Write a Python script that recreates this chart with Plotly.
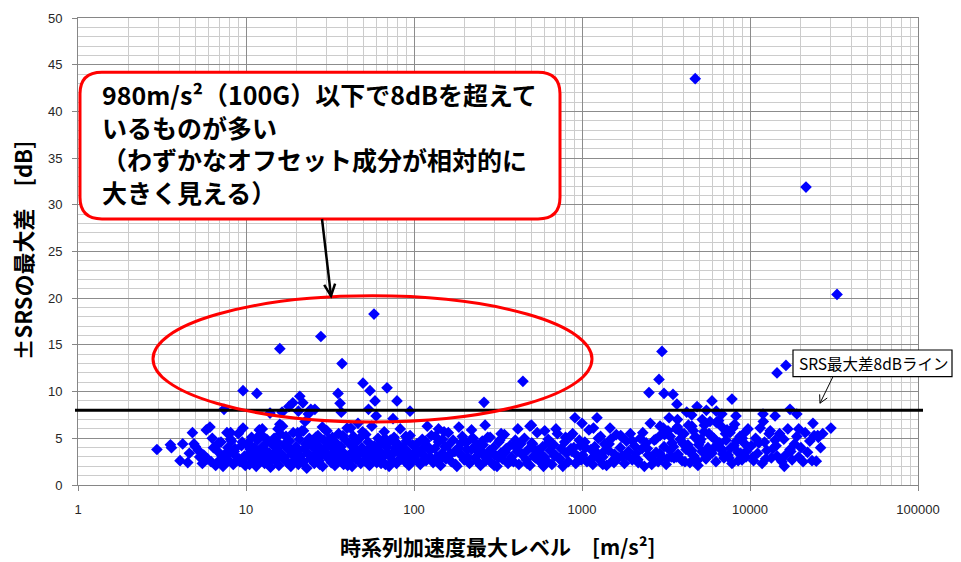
import math
import plotly.graph_objects as go

# ---------------- data ----------------
# decade 1-10
x_a = [2.95, 3.55, 3.6, 4.05, 4.2, 4.5, 4.6, 4.8, 4.9, 5.0,
       5.3, 5.5, 5.6, 5.8, 5.9, 6.1, 6.3, 6.4, 6.6, 6.8,
       7.0, 7.1, 7.3, 7.5, 7.7, 7.9, 8.0, 8.2, 8.4, 8.6,
       8.8, 9.0, 9.2, 9.4, 9.6, 9.8, 9.9,
       6.9, 7.2, 7.6, 8.1, 8.5, 9.1, 9.5, 6.2, 5.2, 7.8]
y_a = [3.8, 4.3, 4.0, 2.6, 4.4, 2.4, 3.4, 5.6, 4.4, 4.1,
       3.0, 2.3, 3.2, 5.9, 2.8, 6.2, 5.0, 4.0, 2.1, 3.6,
       2.7, 4.6, 2.0, 3.3, 5.6, 2.6, 3.4, 4.7, 2.2, 3.9,
       3.0, 5.5, 2.5, 4.2, 6.1, 3.1, 2.1,
       4.5, 3.1, 2.4, 4.9, 3.6, 2.8, 4.6, 2.5, 3.7, 4.0]

# decade 10-100
x_b = [10.1, 10.3, 10.5, 10.6, 10.8, 11.0, 11.2, 11.3, 11.5, 11.7,
       11.9, 12.1, 12.3, 12.5, 12.7, 12.9, 13.1, 13.3, 13.5, 13.8,
       14.0, 14.2, 14.4, 14.7, 14.9, 15.2, 15.4, 15.7, 15.9, 16.2,
       16.5, 16.8, 17.0, 17.3, 17.6, 17.9, 18.2, 18.5, 18.8, 19.1,
       19.5, 19.8, 20.1, 20.5, 20.8, 21.2, 21.5, 21.9, 22.3, 22.6,
       23.0, 23.4, 23.8, 24.2, 24.6, 25.0, 25.5, 25.9, 26.3, 26.8,
       27.2, 27.7, 28.1, 28.6, 29.1, 29.6, 30.1, 30.6, 31.1, 31.6,
       32.2, 32.7, 33.3, 33.8, 34.4, 35.0, 35.6, 36.2, 36.8, 37.4,
       38.1, 38.7, 39.4, 40.0, 40.7, 41.4, 42.1, 42.8, 43.6, 44.3,
       45.1, 45.8, 46.6, 47.4, 48.2, 49.0, 49.9, 50.7, 51.6, 52.5,
       53.4, 54.3, 55.2, 56.1, 57.1, 58.1, 59.0, 60.0, 61.1, 62.1,
       63.2, 64.2, 65.3, 66.5, 67.6, 68.7, 69.9, 71.1, 72.3, 73.6,
       74.8, 76.1, 77.4, 78.7, 80.1, 81.4, 82.8, 84.2, 85.7, 87.1,
       88.6, 90.1, 91.7, 93.2, 94.8, 96.5, 98.1, 99.8]
y_b = [3.1, 4.5, 2.2, 3.8, 5.1, 2.7, 4.0, 3.3, 2.0, 4.8,
       3.6, 2.5, 5.4, 3.0, 4.2, 2.3, 3.7, 4.9, 2.8, 3.4,
       1.9, 4.4, 3.2, 5.0, 2.6, 3.9, 4.6, 2.1, 3.5, 6.3,
       2.9, 4.3, 3.0, 5.2, 2.4, 3.8, 4.7, 2.0, 3.3, 5.6,
       2.7, 4.1, 3.6, 2.2, 4.9, 3.1, 5.8, 2.5, 3.9, 4.4,
       1.8, 3.4, 5.0, 2.8, 4.2, 3.0, 2.3, 4.6, 3.7, 5.3,
       2.6, 4.0, 3.2, 2.0, 4.8, 3.5, 5.8, 2.9, 4.3, 3.1,
       2.4, 5.1, 3.8, 2.1, 4.5, 3.3, 5.5, 2.7, 4.1, 3.6,
       2.2, 4.9, 3.0, 6.1, 2.5, 4.4, 3.4, 2.0, 5.2, 3.9,
       2.8, 4.7, 3.2, 5.0, 2.3, 4.0, 3.6, 2.6, 5.4, 3.1,
       4.6, 2.1, 3.8, 6.3, 2.9, 4.2, 3.3, 2.4, 5.0, 3.7,
       2.7, 4.5, 3.0, 5.7, 2.2, 4.1, 3.5, 2.0, 4.8, 3.2,
       2.6, 5.1, 3.9, 2.3, 4.4, 3.4, 6.0, 2.8, 4.0, 3.1,
       2.5, 4.7, 3.6, 2.1, 5.3, 3.0, 4.3, 2.7]
x_b2 = [10.4, 11.1, 11.8, 12.6, 13.4, 14.3, 15.1, 16.0, 17.1, 18.0,
        19.3, 20.3, 21.7, 23.2, 24.4, 26.0, 27.5, 29.3, 31.3, 33.5,
        35.3, 37.8, 40.3, 43.0, 46.0, 49.4, 52.0, 55.7, 59.5, 63.7,
        67.0, 70.5, 75.5, 79.4, 83.5, 89.4, 95.6, 12.0, 15.5, 22.0]
y_b2 = [4.1, 2.9, 5.2, 3.6, 2.3, 4.6, 3.3, 5.5, 2.7, 4.0,
        3.5, 5.6, 2.4, 4.3, 3.0, 5.1, 2.2, 3.8, 4.9, 2.6,
        3.4, 5.3, 2.1, 4.4, 3.1, 5.7, 2.8, 4.1, 3.6, 2.3,
        5.0, 3.2, 4.6, 2.5, 3.9, 5.2, 3.0, 5.9, 6.0, 5.8]

# decade 100-1000
x_c = [101, 104, 106, 109, 112, 115, 118, 121, 124, 127,
       130, 133, 137, 140, 144, 147, 151, 155, 159, 163,
       167, 171, 175, 180, 184, 189, 194, 199, 204, 209,
       214, 220, 225, 231, 237, 243, 249, 255, 262, 268,
       275, 282, 289, 297, 304, 312, 320, 328, 336, 345,
       354, 363, 372, 381, 391, 401, 411, 421, 432, 443,
       454, 466, 478, 490, 502, 515, 528, 541, 555, 569,
       584, 599, 614, 629, 645, 662, 679, 696, 714, 732,
       750, 769, 789, 809, 829, 851, 872, 894, 917, 941,
       964, 989]
y_c = [2.9, 4.4, 3.5, 2.2, 4.9, 3.1, 2.6, 4.1, 3.7, 5.3,
       2.4, 3.9, 3.0, 4.6, 2.1, 3.4, 5.7, 2.8, 4.2, 3.2,
       2.5, 4.8, 3.6, 2.0, 4.0, 3.3, 5.2, 2.7, 4.5, 3.0,
       2.3, 3.8, 5.0, 2.9, 4.3, 3.5, 2.1, 4.7, 3.1, 2.6,
       5.1, 3.7, 2.4, 4.0, 3.2, 2.0, 4.6, 3.4, 2.8, 5.4,
       3.9, 2.3, 4.2, 3.0, 2.5, 4.8, 3.6, 2.2, 4.4, 3.3,
       5.0, 2.7, 3.8, 2.1, 4.5, 3.1, 2.9, 5.6, 3.5, 2.4,
       4.1, 3.0, 2.6, 4.9, 3.7, 2.2, 4.3, 3.2, 5.5, 2.8,
       3.9, 2.0, 4.6, 3.4, 2.5, 5.2, 3.6, 4.0, 2.3, 3.1,
       4.8, 2.7]
x_c2 = [103, 110, 117, 125, 134, 143, 153, 165, 177, 191,
        206, 222, 239, 258, 278, 300, 324, 350, 377, 406,
        438, 472, 508, 548, 590, 636, 686, 740, 798, 860,
        925, 975, 113, 148, 196, 252, 318, 405, 520, 660]
y_c2 = [3.6, 2.4, 4.7, 3.0, 5.2, 2.7, 4.1, 3.4, 2.2, 4.5,
        3.8, 5.0, 2.5, 4.3, 3.2, 2.1, 4.8, 3.5, 2.6, 4.0,
        3.3, 2.3, 4.4, 3.7, 2.0, 4.6, 3.1, 2.8, 5.1, 3.9,
        2.4, 4.2, 3.9, 4.9, 3.0, 3.6, 2.9, 4.4, 3.8, 4.5]

# decade 1000-10000
x_d = [1010, 1040, 1070, 1100, 1130, 1160, 1190, 1220, 1260, 1290,
       1330, 1360, 1400, 1440, 1480, 1520, 1560, 1600, 1650, 1690,
       1740, 1790, 1840, 1890, 1940, 1990, 2050, 2100, 2160, 2220,
       2280, 2350, 2410, 2480, 2550, 2620, 2690, 2760, 2840, 2920,
       3000, 3080, 3170, 3250, 3340, 3430, 3530, 3630, 3730, 3830,
       3940, 4050, 4160, 4270, 4390, 4510, 4640, 4770, 4900, 5040,
       5180, 5320, 5470, 5620, 5780, 5940, 6100, 6270, 6450, 6630,
       6810, 7000, 7200, 7400, 7600, 7810, 8030, 8250, 8480, 8720,
       8960, 9210, 9470, 9730]
y_d = [3.2, 4.6, 2.5, 5.9, 3.8, 2.2, 4.1, 3.5, 2.8, 5.2,
       3.0, 4.4, 2.1, 3.7, 4.9, 2.6, 3.3, 5.4, 2.9, 4.0,
       3.1, 2.3, 4.7, 3.6, 5.5, 2.7, 4.2, 3.4, 2.4, 5.0,
       3.9, 2.0, 4.5, 3.2, 6.6, 2.8, 4.8, 3.5, 2.5, 5.3,
       3.0, 4.1, 2.2, 5.8, 3.7, 4.5, 2.9, 6.0, 3.3, 4.9,
       2.6, 5.5, 3.8, 4.3, 2.4, 6.3, 3.1, 5.1, 2.1, 4.6,
       3.6, 5.7, 2.8, 4.0, 6.8, 3.4, 5.0, 2.5, 4.4, 3.9,
       6.2, 2.9, 4.8, 3.2, 5.6, 2.3, 4.2, 7.4, 3.5, 5.2,
       2.7, 4.5, 3.0, 6.0]
x_d2 = [1050, 1150, 1250, 1350, 1450, 1550, 1700, 1850, 2000, 2150,
        2300, 2450, 2600, 2750, 2900, 3050, 3200, 3350, 3500, 3650,
        3800, 3950, 4100, 4300, 4500, 4700, 4950, 5200, 5450, 5700,
        6000, 6300, 6600, 6900, 7300, 7700, 8100, 8500, 9000, 9500]
y_d2 = [4.0, 2.9, 5.0, 3.6, 4.4, 2.4, 5.3, 3.2, 4.7, 2.7,
        5.6, 3.9, 2.2, 4.9, 3.4, 6.1, 2.8, 5.2, 4.1, 3.0,
        5.8, 4.6, 2.5, 6.4, 3.7, 5.1, 4.3, 7.0, 2.9, 5.5,
        3.8, 6.7, 4.5, 3.3, 5.9, 4.0, 6.5, 2.6, 5.0, 3.6]
x_d3 = [3100, 3400, 3700, 4000, 4350, 4600, 4850, 5100, 5350, 5600,
        5900, 6200, 6500, 6850, 7150, 7500, 7900, 8300, 8800, 9300]
y_d3 = [5.4, 3.0, 6.2, 4.4, 3.6, 5.8, 2.6, 4.9, 6.4, 3.3,
        5.2, 4.1, 6.9, 3.8, 5.5, 2.9, 6.1, 4.7, 3.4, 5.6]

# decade 10000-35000
x_e = [10200, 10500, 10800, 11100, 11500, 11800, 12200, 12600, 13000, 13400,
       13700, 14100, 14500, 15000, 15500, 15900, 16300, 16800, 17300, 17800,
       18400, 19000, 19500, 20100, 20700, 21300, 22000, 22700, 23400, 24100,
       24800, 25500, 26300, 27100, 10400, 11300, 12400, 13200, 14300, 16000,
       17500]
y_e = [4.2, 2.6, 5.0, 3.4, 6.1, 2.3, 4.6, 3.7, 5.5, 2.9,
       3.9, 4.8, 3.1, 5.5, 2.5, 4.9, 3.2, 6.0, 3.8, 2.7,
       4.4, 5.2, 3.0, 4.0, 2.5, 5.6, 3.5, 4.7, 2.6, 5.3,
       2.55, 5.1, 4.0, 5.5, 3.0, 4.5, 2.8, 5.8, 4.2, 2.0,
       3.6]

# higher / outlying points
x_hi = [7.4, 9.6, 11.6, 8.1,
        15.9, 16.4, 13.9, 18.0, 19.0, 20.9, 21.8, 20.5, 23.5, 24.3,
        25.7, 30.3, 36.9, 53.6, 59.5, 46.4, 75.0, 94.7, 16.5, 35.3,
        36.3, 49.7, 54.7, 69.1, 58.6, 79.2, 57.8, 27.9, 15.9, 37.3,
        12.5, 22.5, 28.5, 42.0,
        261, 445, 265, 490, 500, 415, 284, 908, 1000, 880,
        160, 140, 220, 330, 600, 700, 120, 185,
        2993, 2873, 2504, 3076, 3481, 3673, 5940, 7810, 3300, 2913,
        4840, 5500, 4200, 6800, 3700, 1228, 1170, 1468, 1730, 1330,
        4500, 6300, 4720,
        11950, 14100, 17300, 19000, 19500, 23700, 30300, 25300, 14480, 16370,
        21540, 32960, 12000]
y_hi = [8.1, 10.1, 9.8, 5.6,
        6.5, 7.8, 7.7, 8.4, 8.8, 9.5, 8.8, 7.9, 7.6, 8.1,
        8.1, 5.8, 7.8, 8.1, 7.4, 6.6, 7.1, 7.9, 6.3, 9.8,
        8.75, 10.9, 10.1, 10.4, 9.0, 9.0, 18.3, 15.9, 14.6, 13.0,
        6.0, 6.8, 6.2, 6.1,
        8.85, 11.1, 6.4, 6.3, 6.4, 6.0, 5.1, 7.2, 6.6, 5.5,
        5.6, 6.0, 5.9, 5.5, 5.8, 6.0, 6.3, 6.2,
        14.3, 11.3, 9.9, 9.8, 9.7, 8.65, 9.0, 9.2, 7.2, 6.3,
        8.4, 8.0, 7.8, 7.6, 7.0, 7.2, 6.1, 6.1, 5.1, 2.2,
        7.5, 7.9, 43.5,
        7.6, 7.4, 8.1, 7.6, 6.0, 6.6, 6.1, 5.3, 12.0, 12.8,
        31.9, 20.4, 6.8]

THRESHOLD = 8
THRESHOLD_LABEL = "SRS最大差8dBライン"
X_TICKS = [1, 10, 100, 1000, 10000, 100000]
X_TICKTEXT = ["1", "10", "100", "1000", "10000", "100000"]
Y_RANGE = [0, 50]
X_TITLE = "時系列加速度最大レベル\u3000[m/s²]"
Y_TITLE = "±SRSの最大差\u3000[dB]"
NOTE_LINES = ["980m/s²（100G）以下で8dBを超えて",
              "いるものが多い",
              "（わずかなオフセット成分が相対的に",
              "大きく見える）"]

xs, ys = [], []
for gx, gy in [(x_a, y_a), (x_b, y_b), (x_b2, y_b2), (x_c, y_c), (x_c2, y_c2),
               (x_d, y_d), (x_d2, y_d2), (x_d3, y_d3), (x_e, y_e), (x_hi, y_hi)]:
    for a, b in zip(gx, gy):
        xs.append(a)
        ys.append(b)

# ---------------- layout geometry (pixels) ----------------
W, H = 961, 562
L, R, T, B = 78, 918, 11, 485


def px(x):
    return (x - L) / (R - L)


def py(y):
    return (B - y) / (B - T)


def path_from(points, close=False):
    s = "M {:.5f} {:.5f}".format(px(points[0][0]), py(points[0][1]))
    for p in points[1:]:
        s += " L {:.5f} {:.5f}".format(px(p[0]), py(p[1]))
    if close:
        s += " Z"
    return s


def arrow_paths(x0, y0, x1, y1, head=12, ang=26):
    d = math.hypot(x1 - x0, y1 - y0)
    ux, uy = (x1 - x0) / d, (y1 - y0) / d
    out = [path_from([(x0, y0), (x1, y1)])]
    pts = []
    for sgn in (1, -1):
        a = math.radians(ang) * sgn
        rx = ux * math.cos(a) - uy * math.sin(a)
        ry = ux * math.sin(a) + uy * math.cos(a)
        pts.append((x1 - head * rx, y1 - head * ry))
    out.append(path_from([pts[0], (x1, y1), pts[1]]))
    return out


def rounded_rect(x0, y0, x1, y1, r):
    def P(x, y):
        return "{:.5f} {:.5f}".format(px(x), py(y))
    return ("M " + P(x0 + r, y0) + " L " + P(x1 - r, y0) + " Q " + P(x1, y0) + " " + P(x1, y0 + r)
            + " L " + P(x1, y1 - r) + " Q " + P(x1, y1) + " " + P(x1 - r, y1)
            + " L " + P(x0 + r, y1) + " Q " + P(x0, y1) + " " + P(x0, y1 - r)
            + " L " + P(x0, y0 + r) + " Q " + P(x0, y0) + " " + P(x0 + r, y0) + " Z")


fig = go.Figure()
fig.add_trace(go.Scatter(
    x=xs, y=ys, mode="markers",
    marker=dict(symbol="diamond", size=9, color="#0000FF", line=dict(width=0)),
    hoverinfo="skip", showlegend=False))

minor_x = [m * 10 ** k for k in range(0, 5) for m in range(2, 10)]

fig.update_layout(
    width=W, height=H, autosize=False,
    margin=dict(l=L, r=W - R, t=T, b=H - B, pad=0),
    paper_bgcolor="white", plot_bgcolor="white",
    font=dict(family="Liberation Sans, Noto Sans CJK JP", size=13, color="#262626"),
    xaxis=dict(
        type="log", range=[0, 5],
        tickmode="array", tickvals=X_TICKS, ticktext=X_TICKTEXT,
        ticks="outside", ticklen=5, tickcolor="#868686", tickwidth=1,
        ticklabelstandoff=7,
        showline=True, linecolor="#868686", linewidth=1, mirror=True,
        showgrid=True, gridcolor="#8c8c8c", gridwidth=1,
        minor=dict(tickmode="array", tickvals=minor_x, showgrid=True,
                   gridcolor="#cccccc", gridwidth=1, ticks=""),
        zeroline=False,
    ),
    yaxis=dict(
        range=Y_RANGE, dtick=5, tick0=0,
        ticks="outside", ticklen=5, tickcolor="#868686", tickwidth=1,
        ticklabelstandoff=7,
        showline=True, linecolor="#868686", linewidth=1, mirror=True,
        showgrid=True, gridcolor="#8c8c8c", gridwidth=1,
        minor=dict(dtick=1, showgrid=True, gridcolor="#cccccc", gridwidth=1, ticks=""),
        zeroline=False,
    ),
)

shapes = []
# threshold line (y in paper units derived from axis range)
thr_p = (THRESHOLD - Y_RANGE[0]) / (Y_RANGE[1] - Y_RANGE[0])
shapes.append(dict(type="line", xref="paper", yref="paper",
                   x0=px(75), x1=px(923), y0=thr_p, y1=thr_p,
                   line=dict(color="black", width=3)))
# red ellipse
shapes.append(dict(type="circle", xref="paper", yref="paper",
                   x0=px(153), x1=px(592), y0=py(421), y1=py(293),
                   line=dict(color="#FF0000", width=3)))
# rounded callout box
shapes.append(dict(type="path", xref="paper", yref="paper",
                   path=rounded_rect(80, 66, 560, 215, 22),
                   fillcolor="white", line=dict(color="#FF0000", width=3)))
# callout arrow
for p in arrow_paths(322, 215, 331, 293, head=13, ang=25):
    shapes.append(dict(type="path", xref="paper", yref="paper", path=p,
                       line=dict(color="black", width=2.5)))
# threshold label box
shapes.append(dict(type="rect", xref="paper", yref="paper",
                   x0=px(793), x1=px(952), y0=py(375), y1=py(348),
                   fillcolor="white", line=dict(color="black", width=1.2)))
for p in arrow_paths(833, 375, 820, 402, head=9, ang=28):
    shapes.append(dict(type="path", xref="paper", yref="paper", path=p,
                       line=dict(color="black", width=1)))
fig.update_layout(shapes=shapes)

ann = []
ann.append(dict(xref="paper", yref="paper", x=px(100), y=py(138),
                xanchor="left", yanchor="middle", align="left", showarrow=False,
                text="<br>".join("<b>" + s + "</b>" for s in NOTE_LINES),
                font=dict(family="Noto Sans CJK JP", size=25, color="black")))
ann.append(dict(xref="paper", yref="paper", x=px(873), y=py(361),
                xanchor="center", yanchor="middle", showarrow=False,
                text=THRESHOLD_LABEL,
                font=dict(family="Noto Sans CJK JP", size=15.5, color="black")))
ann.append(dict(xref="paper", yref="paper", x=px(498), y=py(547),
                xanchor="center", yanchor="middle", showarrow=False,
                text="<b>" + X_TITLE + "</b>",
                font=dict(family="Noto Sans CJK JP", size=21, color="black")))
ann.append(dict(xref="paper", yref="paper", x=px(22), y=py(247),
                xanchor="center", yanchor="middle", showarrow=False, textangle=-90,
                text="<b>" + Y_TITLE + "</b>",
                font=dict(family="Noto Sans CJK JP", size=22, color="black")))
fig.update_layout(annotations=ann)

fig.write_html("out.html")
